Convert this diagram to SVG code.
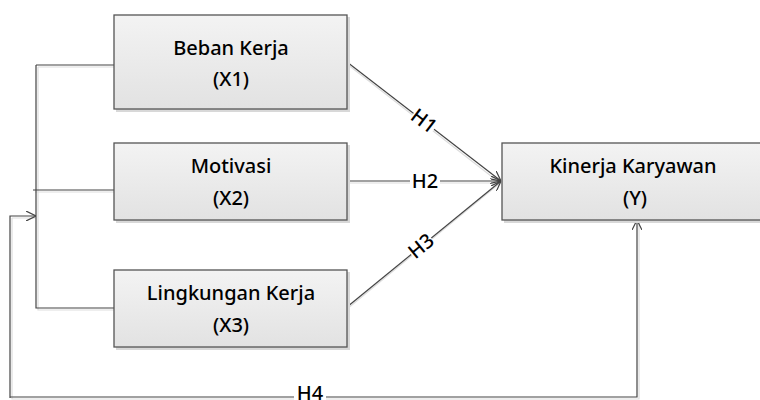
<svg xmlns="http://www.w3.org/2000/svg" width="760" height="400" viewBox="0 0 760 400">
<style>
.box{fill:url(#g);stroke:#555;stroke-width:1.3}
.sh{fill:#d8d8d8}
.t{font-family:"Noto Sans","DejaVu Sans",sans-serif;font-size:20px;font-weight:500;fill:#000;text-anchor:middle}
.c{fill:none;stroke:#444;stroke-width:1.2}
.cs{fill:none;stroke:#ddd;stroke-width:1.2}
.lb{font-family:"Noto Sans","DejaVu Sans",sans-serif;font-size:20px;font-weight:500;fill:#000;text-anchor:middle}
</style>
<defs>
<linearGradient id="g" x1="0" y1="0" x2="0" y2="1">
<stop offset="0" stop-color="#f3f3f3"/>
<stop offset="1" stop-color="#e2e2e2"/>
</linearGradient>
<marker id="a" viewBox="0 0 10 10" refX="10" refY="5" markerWidth="10" markerHeight="10" markerUnits="userSpaceOnUse" orient="auto">
<path d="M0,0 L10,5 L0,10" fill="none" stroke="#444" stroke-width="1.2"/>
</marker>
</defs>
<rect width="760" height="400" fill="#fff"/>
<g id="connectors">
<path class="cs" d="M38,67 V310 H114 M38,67 H114 M35,192 H114 M12,218 H36 M12,218 V399 H639 V222"/>
<path class="cs" d="M347,64 L500,183 M347,183 H500 M347,309 L500,183"/>
<path class="c" d="M36,65 V308 H114 M36,65 H114 M33,190 H114"/>
<path class="c" d="M10,398 V216 H36" marker-end="url(#a)"/>
<path class="c" d="M10,397 H637 V220" marker-end="url(#a)"/>
<path class="c" d="M347,62 L501,181" marker-end="url(#a)"/>
<path class="c" d="M347,181 H501" marker-end="url(#a)"/>
<path class="c" d="M347,307 L501,181" marker-end="url(#a)"/>
<g transform="translate(424,121) rotate(37.5)"><rect x="-13" y="-10" width="26" height="20" fill="#fff"/><text class="lb" y="7">H1</text></g>
<rect x="410" y="171" width="30" height="20" fill="#fff"/><text class="lb" x="425" y="188">H2</text>
<g transform="translate(421,246) rotate(-39.3)"><rect x="-13" y="-10" width="26" height="20" fill="#fff"/><text class="lb" y="7">H3</text></g>
<rect x="294" y="386" width="32" height="14" fill="#fff"/><text class="lb" x="310" y="400">H4</text>
</g>
<g id="x1">
<rect class="sh" x="116" y="17" width="234" height="95"/>
<rect class="box" x="114" y="15" width="233" height="94"/>
<text class="t" x="231" y="55">Beban Kerja</text>
<text class="t" x="231" y="86">(X1)</text>
</g>
<g id="x2">
<rect class="sh" x="116" y="145" width="234" height="78"/>
<rect class="box" x="114" y="143" width="233" height="77"/>
<text class="t" x="231" y="173">Motivasi</text>
<text class="t" x="231" y="205">(X2)</text>
</g>
<g id="x3">
<rect class="sh" x="116" y="272" width="234" height="78"/>
<rect class="box" x="114" y="270" width="233" height="77"/>
<text class="t" x="231" y="300">Lingkungan Kerja</text>
<text class="t" x="231" y="332">(X3)</text>
</g>
<g id="y">
<rect class="sh" x="504" y="145" width="262" height="78"/>
<rect class="box" x="502" y="143" width="262" height="77"/>
<text class="t" x="633" y="173">Kinerja Karyawan</text>
<text class="t" x="635" y="205">(Y)</text>
</g>
</svg>
